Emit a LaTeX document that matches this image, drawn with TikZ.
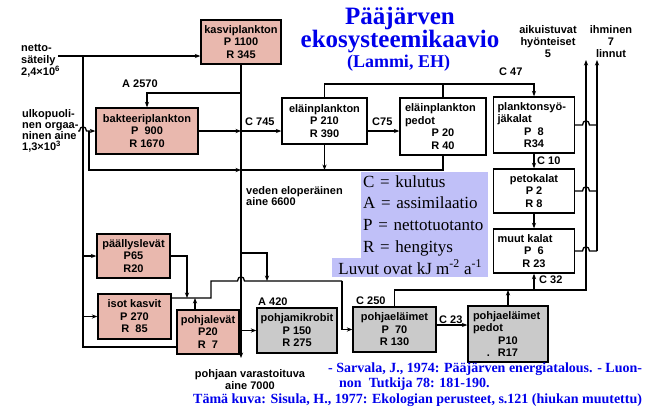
\documentclass[tikz,border=0pt]{standalone}
\usepackage{fontspec}
\setmainfont{Liberation Serif}
\setsansfont{Liberation Sans}
\usetikzlibrary{positioning,arrows.meta}
\definecolor{laatikko}{RGB}{233,184,174}
\definecolor{harmaa}{RGB}{202,202,202}
\definecolor{selite}{RGB}{192,192,248}
\definecolor{sini}{RGB}{0,0,235}
\newcommand{\hop}[2]{-- (#1-3.5,#2) .. controls (#1-3.5,#2-5.5) and (#1+3.5,#2-5.5) .. (#1+3.5,#2)}
\tikzset{
	lokero/.style={draw, line width=1.4pt, fill=laatikko, align=center, inner sep=0pt, font=\sffamily\bfseries\fontsize{11}{12.5}\selectfont},
	pohja/.style={lokero, fill=harmaa},
	valkoinen/.style={lokero, fill=white},
	virta/.style={line width=1.3pt, -{Stealth[length=5.5pt,width=4.2pt]}},
	viiva/.style={line width=1.3pt},
	teksti/.style={font=\sffamily\bfseries\fontsize{11}{12}\selectfont, inner sep=0pt},
	selitys/.style={fill=selite, inner sep=0pt, font=\rmfamily\fontsize{17}{21.7}\selectfont},
	otsikko/.style={text=sini, inner sep=0pt, anchor=base, font=\rmfamily\bfseries\fontsize{25}{25}\selectfont},
	lahde/.style={text=sini, inner sep=0pt, anchor=base west, font=\rmfamily\bfseries\fontsize{14}{16}\selectfont}
}

\begin{document}
\begin{tikzpicture}[x=1pt,y=-1pt]
	\useasboundingbox (0,0) rectangle (650,413);

	\node[otsikko] (otsikko1) at (400,24) {Pääjärven};
	\node[otsikko] (otsikko2) at (400,47) {ekosysteemikaavio};
	\node[otsikko, font=\rmfamily\bfseries\fontsize{18}{18}\selectfont] (otsikko3) at (398.5,67) {(Lammi, EH)};

	\node[lokero, minimum width=80, minimum height=44] (kasviplankton) at (241,42) {kasviplankton\\P 1100\\R 345};
	\node[lokero, minimum width=102, minimum height=46] (bakteeri) at (147,131) {bakteeriplankton\\P\ \ 900\\R 1670};
	\node[valkoinen, minimum width=85, minimum height=46] (elain) at (324.5,121) {eläinplankton\\P 210\\R 390};
	\node[valkoinen, minimum width=86, minimum height=57] (elainpedot) at (443,126.5) {\makebox[76pt][l]{eläinplankton}\\\makebox[76pt][l]{pedot}\\P 20\\R 40};
	\node[valkoinen, minimum width=81, minimum height=56] (planktonsyojat) at (534,125) {\makebox[73pt][l]{planktonsyö-}\\\makebox[73pt][l]{jäkalat}\\P\ \ 8\\R34};
	\node[valkoinen, minimum width=81, minimum height=44] (petokalat) at (534,191) {petokalat\\P 2\\R 8};
	\node[valkoinen, minimum width=81, minimum height=44] (muutkalat) at (534,251) {\makebox[73pt][l]{muut kalat}\\P\ \ 6\\R 23};
	\node[lokero, minimum width=73, minimum height=44] (paallyslevat) at (133.5,256) {päällyslevät\\P65\\R20};
	\node[lokero, minimum width=73, minimum height=45] (isotkasvit) at (134.5,316.5) {isot kasvit\\P 270\\R\ \ 85};
	\node[lokero, minimum width=62, minimum height=44] (pohjalevat) at (208,332) {pohjalevät\\P20\\R\ \ 7};
	\node[pohja, minimum width=80, minimum height=45] (pohjamikrobit) at (297,330.5) {pohjamikrobit\\P 150\\R 275};
	\node[pohja, minimum width=83, minimum height=45] (pohjaelaimet) at (394.5,329.5) {pohjaeläimet\\P\ \ 70\\R 130};
	\node[pohja, minimum width=80, minimum height=56] (pohjapedot) at (508,334) {\makebox[70pt][l]{pohjaeläimet}\\\makebox[70pt][l]{pedot}\\P10\\\llap{.\hspace{8pt}}R17};

	\node[teksti, anchor=north west, align=left] (netto) at (21,44) {netto-\\säteily\\2,4×10\textsuperscript{6}};
	\node[teksti, anchor=north west, align=left, font=\sffamily\bfseries\fontsize{11}{11}\selectfont] (ulko) at (22,109) {ulkopuoli-\\nen orgaa-\\ninen aine\\1,3×10\textsuperscript{3}};
	\node[teksti, anchor=north, align=center] (aikuiset) at (548,25) {aikuistuvat\\hyönteiset\\5};
	\node[teksti, anchor=north, align=center] (ihmiset) at (611,25) {ihminen\\7\\linnut};
	\node[teksti, anchor=north west, align=left, font=\sffamily\bfseries\fontsize{11}{11}\selectfont] (veden) at (246,186) {veden eloperäinen\\aine 6600};
	\node[teksti, anchor=north, align=center] (pohjaan) at (250,369) {pohjaan varastoituva\\aine 7000};

	\node[teksti, anchor=base west] (a2570) at (122,87) {A 2570};
	\node[teksti, anchor=base west] (c745) at (245,125) {C 745};
	\node[teksti, anchor=base west] (c75) at (372,125) {C75};
	\node[teksti, anchor=base west] (c47) at (499,75) {C 47};
	\node[teksti, anchor=base west] (c10) at (537,164) {C 10};
	\node[teksti, anchor=base west] (c32) at (539,283) {C 32};
	\node[teksti, anchor=base west] (c23) at (439,323) {C 23};
	\node[teksti, anchor=base west] (c250) at (356,304) {C 250};
	\node[teksti, anchor=base west] (a420) at (258,305) {A 420};

	\coordinate (nettoulos) at (58,56);
	\coordinate (nettokulma) at (83,56);
	\coordinate (nettoala) at (83,347);
	\coordinate (ulkoulos) at (78,131);
	\coordinate (ulkohaara) at (89,131);
	\coordinate (liuA) at (241,93);
	\coordinate (liuC) at (241,131);
	\coordinate (liuK) at (241,170);
	\coordinate (liuB) at (241,253);
	\coordinate (varasto) at (241,358);
	\coordinate (c47linja) at (400,84);
	\coordinate (pohjalinja) at (211,298);
	\coordinate (pohjayla) at (211,281);
	\coordinate (pohjaoikea) at (342,281);
	\coordinate (paallysala) at (187,298);
	\coordinate (pohjalevaylos) at (195,298);
	\coordinate (haara) at (267,281);
	\coordinate (c23linja) at (450,325);
	\coordinate (hyonteisala) at (586,290);
	\coordinate (hyonteiset) at (586,60);
	\coordinate (ihminenala) at (597,251);
	\coordinate (ihminen) at (597,60);

	\draw[virta] (nettoulos) -- (kasviplankton.west |- nettoulos);
	\draw[viiva] (nettokulma) -- (nettoala) -- (pohjalevat.west |- nettoala);
	\draw[virta] (nettokulma |- paallyslevat.west) -- (paallyslevat.west);
	\draw[virta] (nettokulma |- isotkasvit.west) -- (isotkasvit.west);
	\draw[virta] (ulkoulos) \hop{83}{131} -- (bakteeri.west);
	\draw[virta] (ulkohaara) |- (liuK);
	\draw[virta] (kasviplankton.south) -- (varasto);
	\draw[virta] (liuA) -| (bakteeri.north);
	\draw[virta] (bakteeri.east) -- (liuC);
	\draw[virta] (liuC) -- (elain.west |- liuC);
	\draw[virta] (elain.east |- liuC) -- (elainpedot.west |- liuC);
	\draw[virta] (elain.north) |- (c47linja) -| (planktonsyojat.north);
	\draw[viiva] (elainpedot.north) -- (elainpedot.north |- c47linja);
	\draw[virta] (elain.south) -- (elain.south |- liuK);
	\draw[viiva] (elainpedot.south) |- (liuK);
	\draw[virta] (liuB) -| (haara);
	\draw[viiva] (isotkasvit.east |- pohjalinja) -- (pohjalinja) -- (pohjayla) \hop{241}{281} -- (pohjaoikea);
	\draw[virta] (pohjaoikea) |- (pohjaelaimet.west);
	\draw[virta] (paallyslevat.east) -| (paallysala);
	\draw[virta] (pohjalevat.north -| pohjalevaylos) -- (pohjalevaylos);
	\draw[virta] (pohjalevat.east |- pohjamikrobit.west) -- (pohjamikrobit.west);
	\draw[virta] (pohjaelaimet.east |- c23linja) -- (pohjapedot.west |- c23linja);
	\draw[virta] (pohjaelaimet.north) |- (hyonteisala) -- (hyonteiset);
	\draw[virta] (pohjapedot.north) -- (pohjapedot.north |- hyonteisala);
	\draw[virta] (muutkalat.south |- hyonteisala) -- (muutkalat.south);
	\draw[virta] (planktonsyojat.south) -- (petokalat.north);
	\draw[virta] (petokalat.south) -- (muutkalat.north);
	\draw[viiva] (planktonsyojat.east) \hop{586}{125} -- (planktonsyojat.east -| ihminen);
	\draw[viiva] (petokalat.east) \hop{586}{191} -- (petokalat.east -| ihminen);
	\draw[viiva] (muutkalat.east) \hop{586}{251} -- (ihminenala);
	\draw[virta] (ihminenala) -- (ihminen);

	\node[selitys, anchor=north west, align=left, text width=123, inner xsep=2, inner ysep=3, minimum height=86] (selite) at (361,172) {C = kulutus\\A = assimilaatio\\P = nettotuotanto\\R = hengitys};
	\node[selitys, anchor=north west, minimum width=156, minimum height=19, text height=15, text depth=2, inner ysep=1] (yksikot) at (332,258) {Luvut ovat kJ m\textsuperscript{-2} a\textsuperscript{-1}};

	\node[lahde] (lahde1) at (328,372) {- Sarvala, J., 1974: Pääjärven energiatalous. - Luon-};
	\node[lahde] (lahde2) at (339,387) {non\ \ Tutkija 78: 181-190.};
	\node[lahde] (lahde3) at (193,403) {Tämä kuva: Sisula, H., 1977: Ekologian perusteet, s.121 (hiukan muutettu)};
\end{tikzpicture}
\end{document}
